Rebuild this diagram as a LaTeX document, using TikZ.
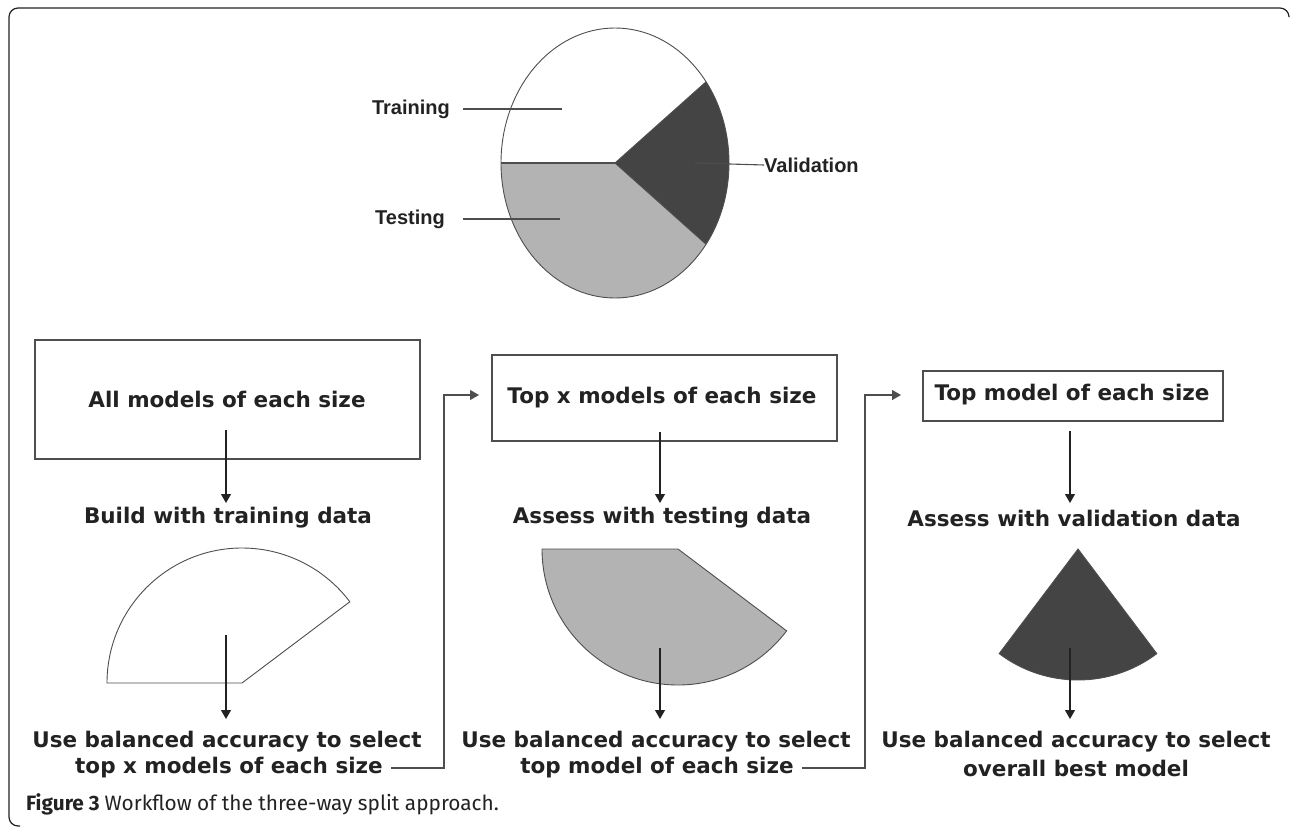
\documentclass[tikz,border=0pt]{standalone}
\usepackage{fontspec}
\setmainfont{DejaVu Sans}
\newfontfamily\labf{Liberation Sans}
\newfontfamily\capf{Fira Sans}
\usetikzlibrary{arrows.meta}
\definecolor{lgray}{HTML}{B3B3B3}
\definecolor{dgray}{HTML}{444444}
\definecolor{ink}{HTML}{222222}
\begin{document}
\begin{tikzpicture}[x=1pt,y=-1pt,
  wf/.style={font=\fontsize{21.5}{24}\selectfont\bfseries, text=ink, inner sep=0pt},
  pl/.style={font=\labf\fontsize{20}{24}\selectfont\bfseries, text=ink, inner sep=0pt},
  boxst/.style={draw=ink!80, line width=1.3pt},
  fan/.style={draw=ink!80, line width=0.9pt},
  arr/.style={draw=ink, line width=1.1pt, -{Triangle[width=10pt,length=9pt]}},
  conn/.style={draw=ink!80, line width=1.3pt, -{Triangle[width=10pt,length=9pt]}},
  ll/.style={draw=ink!80, line width=1.1pt}]
\useasboundingbox (0,0) rectangle (1290,827);
% frame
\draw[ink, line width=1.2pt, rounded corners=9pt] (1289,16) -- (1289,8) -- (9,8) -- (9,826) -- (20,826);
% pie
\coordinate (pc) at (615,163);
\fill[white] (pc) -- ++(-37:114 and 135) arc[start angle=-37,end angle=-180,x radius=114,y radius=135] -- cycle;
\fill[lgray] (pc) -- ++(180:114 and 135) arc[start angle=180,end angle=37,x radius=114,y radius=135] -- cycle;
\fill[dgray] (pc) -- ++(37:114 and 135) arc[start angle=37,end angle=-37,x radius=114,y radius=135] -- cycle;
\draw[ink!80, line width=0.9pt] (pc) ellipse[x radius=114,y radius=135];
\draw[ink!80, line width=1.2pt] (pc) -- ++(180:114 and 135);
\draw[ink!80, line width=0.9pt] (pc) -- ++(37:114 and 135);
\draw[ink!80, line width=0.9pt] (pc) -- ++(-37:114 and 135);
\node[pl, anchor=east] (trl) at (450,109) {Training};
\node[pl, anchor=east] (tel) at (445,219) {Testing};
\node[pl, anchor=west] (val) at (764,165) {Validation};
\coordinate (tre) at (562,109);
\coordinate (tee) at (560,219);
\coordinate (vae) at (695,163);
\draw[ll] ([xshift=13pt]trl.east) -- (tre);
\draw[ll] ([xshift=18pt]tel.east) -- (tee);
\draw[ll] (val.west) -- (vae);
% column 1
\draw[boxst] (35,340) rectangle (420,459);
\node[wf] (all) at (227,399) {All models of each size};
\coordinate (a1) at (226,430);
\node[wf] (build) at (228,518) {Build with training data};
\draw[arr] (a1) -- (226,503);
\draw[fan, fill=white] (242,683) -- ++(-135,0) arc[start angle=180,end angle=323,radius=135] -- cycle;
\coordinate (a2) at (226,635);
\draw[arr] (a2) -- (226,719);
\node[wf] (s1a) at (227,742) {Use balanced accuracy to select};
\node[wf] (s1b) at (229,768) {top x models of each size};
% column 2
\draw[boxst] (492,355) rectangle (837,441);
\node[wf] (topx) at (662,398) {Top x models of each size};
\coordinate (a3) at (660,432);
\draw[arr] (a3) -- (660,503);
\node[wf] (ass1) at (662,518) {Assess with testing data};
\draw[fan, fill=lgray] (678,549) -- ++(-136,0) arc[start angle=180,end angle=37,radius=136] -- cycle;
\coordinate (a4) at (660,648);
\draw[arr] (a4) -- (660,719);
\node[wf] (s2a) at (656,742) {Use balanced accuracy to select};
\node[wf] (s2b) at (657,768) {top model of each size};
% column 3
\draw[boxst] (923,371) rectangle (1223,421);
\node[wf] (top1) at (1072,395) {Top model of each size};
\coordinate (a5) at (1070,431);
\draw[arr] (a5) -- (1070,503);
\node[wf] (ass2) at (1074,518) {Assess with validation data};
\draw[fan, fill=dgray] (1078,549) -- ++(127:131) arc[start angle=127,end angle=53,radius=131] -- cycle;
\coordinate (a6) at (1070,648);
\draw[arr] (a6) -- (1070,719);
\node[wf] (s3a) at (1076,742) {Use balanced accuracy to select};
\node[wf] (s3b) at (1076,768) {overall best model};
% connectors
\coordinate (j1) at (444,395);
\coordinate (t1) at (479,395);
\draw[conn] ([xshift=8pt]s1b.east) -| (j1) -- (t1);
\coordinate (j2) at (865,395);
\coordinate (t2) at (901,395);
\draw[conn] ([xshift=8pt]s2b.east) -| (j2) -- (t2);
% caption
\node[anchor=base west, inner sep=0pt, text=ink] (cap) at (26,810) {\capf\fontsize{20.8}{24}\selectfont\bfseries Figure 3 \mdseries Workflow of the three-way split approach.};
\end{tikzpicture}
\end{document}
